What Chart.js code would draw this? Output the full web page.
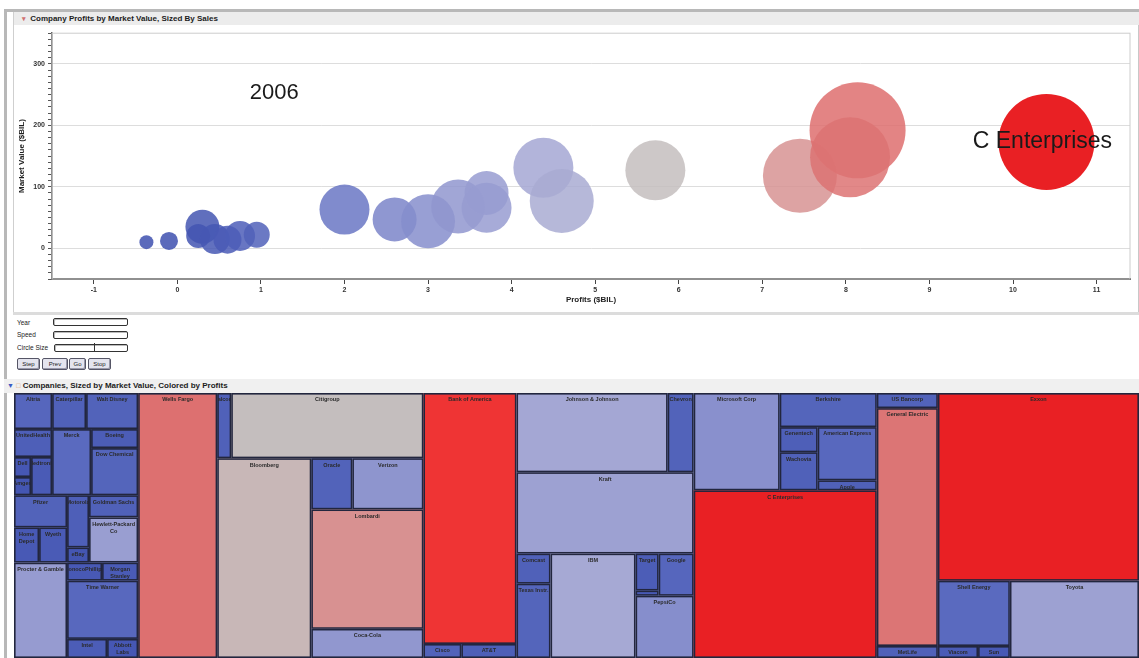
<!DOCTYPE html>
<html>
<head>
<meta charset="utf-8">
<script src="https://cdn.jsdelivr.net/npm/chart.js@4.4.1/dist/chart.umd.min.js"></script>
<style>
  body { margin:0; width:1139px; height:658px; overflow:hidden; background:#fff; position:relative;
         font-family:"Liberation Sans", Arial, sans-serif; color:#222; }
  .abs { position:absolute; }
  .bar { background:#ececec; font-weight:bold; font-size:8px; line-height:13px; height:13px; color:#1c1c1c; white-space:nowrap; }
  .lbl { font-size:6.5px; color:#222; }
  .box { border:1px solid #333; background:#fff; border-radius:2px; box-shadow:inset 1px 1px 0 #bbb; }
  .btn { border:1px solid #556; background:#e4e4ee; border-radius:2px; font-size:6px; text-align:center;
         line-height:10px; height:10px; color:#222; box-shadow:inset -1px -1px 0 #99a; }
</style>
</head>
<body>
<!-- window frame -->
<div class="abs" style="left:4px;top:9px;width:1135px;height:649px;border-left:3px solid #b8b8b8;border-top:3px solid #b8b8b8;"></div>
<div class="abs" style="left:13px;top:12px;width:1124px;height:300px;border-left:1px solid #cfcfcf;border-right:2px solid #c8c8c8;"></div>

<!-- top panel -->
<div class="abs bar" style="left:14px;top:12px;width:1125px;">
  <span style="color:#d07070;font-size:7px;margin-left:8px;">&#9662;</span>
  <span style="margin-left:2px;">Company Profits by Market Value, Sized By Sales</span>
</div>
<div class="abs" style="left:14px;top:26px;width:1122px;height:286px;">
  <canvas id="bubbles"></canvas>
</div>
<div class="abs" style="left:13px;top:312px;width:1126px;height:3px;background:#dcdcdc;"></div>

<!-- controls -->
<div class="abs lbl" style="left:17px;top:319px;">Year</div>
<div class="abs box" style="left:53px;top:318px;width:73px;height:6px;"></div>
<div class="abs lbl" style="left:17px;top:331px;">Speed</div>
<div class="abs box" style="left:53px;top:331px;width:73px;height:6px;"></div>
<div class="abs lbl" style="left:17px;top:344px;">Circle Size</div>
<div class="abs box" style="left:54px;top:344px;width:72px;height:6px;"></div>
<div class="abs" style="left:94px;top:343px;width:1px;height:9px;background:#333;"></div>
<div class="abs btn" style="left:17px;top:358px;width:21px;">Step</div>
<div class="abs btn" style="left:42px;top:358px;width:24px;">Prev</div>
<div class="abs btn" style="left:69px;top:358px;width:15px;">Go</div>
<div class="abs btn" style="left:88px;top:358px;width:21px;">Stop</div>

<!-- treemap panel -->
<div class="abs bar" style="left:4px;top:379px;width:1135px;height:14px;background:#f0f0f0;">
  <span style="color:#3a5bc4;font-size:7px;margin-left:3px;">&#9660;</span>
  <span style="color:#d9a050;font-size:7px;">&#9633;</span>
  <span>Companies, Sized by Market Value, Colored by Profits</span>
</div>
<div class="abs" style="left:14px;top:393px;width:1125px;height:265px;">
  <canvas id="tree"></canvas>
</div>

<script>
// ---- bubble chart data ----
const profits      = [-0.37, -0.10, 0.25, 0.30, 0.45, 0.60, 0.75, 0.95, 2.00, 2.60, 3.00, 3.36, 3.70, 3.70, 4.38, 4.60, 5.72, 7.45, 8.14, 8.05, 10.40];
const marketValues = [10, 12, 20, 35, 15, 14, 20, 22, 63, 47, 44, 68, 90, 66, 131, 77, 127, 118, 192, 148, 173];
const sales        = [4.0, 6.6, 11.8, 23.6, 18.4, 16.0, 18.4, 13.8, 51.0, 39.5, 59.5, 59.5, 39.5, 51.0, 73.5, 83.6, 73.5, 111.8, 188.1, 130.6, 188.1];
const bubbleLabels = ['', '', '', '', '', '', '', '', '', '', '', '', '', '', '', '', '', '', '', '', 'C Enterprises'];
const yearLabel = '2006';
const yearLabelAt = [1.16, 253];   // profits, market value
const yTickLabels = [0, 100, 200, 300];

// ---- treemap data (market value = size, profit = colour) ----
const tmNames = ['Altria', 'Caterpillar', 'Walt Disney', 'UnitedHealth', 'Dell', 'Amgen', 'Medtronic', 'Merck', 'Boeing',
  'Dow Chemical', 'Pfizer', 'Home Depot', 'Wyeth', 'Procter & Gamble', 'Motorola', 'eBay', 'Goldman Sachs',
  'Hewlett-Packard Co', 'ConocoPhillips', 'Morgan Stanley', 'Time Warner', 'Intel', 'Abbott Labs', 'Wells Fargo',
  'Qualcomm', 'Citigroup', 'Bloomberg', 'Oracle', 'Verizon', 'Lombardi', 'Coca-Cola', 'Bank of America', 'Cisco',
  'AT&T', 'Johnson & Johnson', 'Chevron', 'Kraft', 'Comcast', 'Texas Instr.', 'IBM', 'Target', 'Sprint', 'Google',
  'PepsiCo', 'Microsoft Corp', 'Berkshire', 'Genentech', 'Wachovia', 'American Express', 'Apple', 'C Enterprises',
  'US Bancorp', 'General Electric', 'MetLife', 'Exxon', 'Shell Energy', 'Viacom', 'Sun', 'Toyota'];
const tmValues = [13.7, 12.2, 18.7, 10.6, 3.4, 3.1, 8.0, 25.7, 8.9, 22.1, 17.0, 8.8, 9.8, 50.4, 11.4, 3.3, 10.8, 22.1,
  6.3, 6.5, 41.2, 7.6, 5.9, 208.6, 9.1, 124.8, 187.1, 20.9, 36.2, 133.3, 32.5, 232.5, 5.3, 7.7, 119.3, 20.5, 143.4,
  10.2, 25.2, 88.4, 8.5, 1.2, 14.7, 36.0, 83.4, 33.0, 9.5, 14.4, 31.3, 5.9, 305.6, 9.2, 144.6, 7.3, 375.9, 46.8,
  4.8, 3.8, 99.3];
const tmProfits = [1.2, 0.9, 1.0, 0.8, 0.4, 0.3, 0.6, 1.4, 0.7, 1.1, 1.0, 0.5, 0.6, 3.6, 0.8, 0.3, 0.9, 3.8, 0.5, 0.6,
  1.3, 0.7, 0.4, 8.1, 0.9, 5.7, 6.2, 1.0, 3.3, 7.5, 3.4, 9.5, 1.0, 0.8, 4.4, 1.0, 4.0, 0.9, 1.1, 4.5, 0.7, 0.5, 1.2,
  3.0, 3.1, 1.1, 0.8, 0.9, 1.3, 0.9, 10.4, 1.0, 8.0, 0.9, 11.0, 1.4, 0.6, 0.5, 4.0];
// grouping: 'h' = side by side, 'v' = stacked; numbers are indexes into the arrays above
const tmTree = ['h',
  ['v',
    ['v', ['h', 0, 1, 2], ['h', ['v', 3, ['h', ['v', 4, 5], 6]], 7, ['v', 8, 9]]],
    ['h', ['v', 10, ['h', 11, 12], 13], ['v', ['h', ['v', 14, 15], ['v', 16, 17]], ['h', 18, 19], 20, ['h', 21, 22]]]],
  23,
  ['v', ['h', 24, 25], ['h', 26, ['v', ['h', 27, 28], 29, 30]]],
  ['v', 31, ['h', 32, 33]],
  ['v', ['h', 34, 35], 36, ['h', ['v', 37, 38], 39, ['v', ['h', ['v', 40, 41], 42], 43]]],
  ['v', ['h', 44, ['v', 45, ['h', ['v', 46, 47], ['v', 48, 49]]]], 50],
  ['v', 51, 52, 53],
  ['v', 54, ['h', ['v', 55, ['h', 56, 57]], 58]]
];

// colour ramp: low profit blue -> grey -> high profit red
const rampStops = [[0, [62, 80, 175]], [1.5, [92, 108, 192]], [3.5, [148, 153, 208]], [4.5, [166, 169, 212]],
  [5.7, [196, 190, 190]], [6.5, [203, 178, 178]], [7.5, [216, 145, 145]], [8.1, [221, 112, 112]],
  [9.5, [239, 52, 52]], [10.4, [233, 32, 36]]];
function profitColor(p, a) {
  let c = rampStops[rampStops.length - 1][1];
  if (p <= rampStops[0][0]) c = rampStops[0][1];
  for (let i = 0; i < rampStops.length - 1; i++) {
    const [p0, c0] = rampStops[i], [p1, c1] = rampStops[i + 1];
    if (p >= p0 && p <= p1) {
      const t = (p - p0) / (p1 - p0);
      c = c0.map((v, k) => Math.round(v + (c1[k] - v) * t));
      break;
    }
  }
  return 'rgba(' + c[0] + ',' + c[1] + ',' + c[2] + ',' + a + ')';
}

// ---- bubble chart ----
const bubbleText = {
  id: 'bubbleText',
  beforeDatasetsDraw(chart) {
    const { ctx, chartArea: a } = chart;
    ctx.save();
    ctx.strokeStyle = '#cccccc';
    ctx.lineWidth = 1;
    ctx.strokeRect(a.left, a.top, a.right - a.left, a.bottom - a.top);
    ctx.restore();
  },
  afterDatasetsDraw(chart) {
    const { ctx, scales: { x, y } } = chart;
    ctx.save();
    ctx.fillStyle = '#1a1a1a';
    ctx.textAlign = 'center';
    ctx.textBaseline = 'middle';
    ctx.font = '22px "Liberation Sans", Arial, sans-serif';
    ctx.fillText(yearLabel, x.getPixelForValue(yearLabelAt[0]), y.getPixelForValue(yearLabelAt[1]));
    ctx.font = '23px "Liberation Sans", Arial, sans-serif';
    const meta = chart.getDatasetMeta(0);
    bubbleLabels.forEach((t, i) => {
      if (!t) return;
      const el = meta.data[i];
      ctx.fillText(t, el.x - 4, el.y);
    });
    ctx.restore();
  }
};

new Chart(document.getElementById('bubbles'), {
  type: 'bubble',
  data: {
    datasets: [{
      data: profits.map((p, i) => ({ x: p, y: marketValues[i], r: Math.sqrt(sales[i]) * 3.5 })),
      backgroundColor: profits.map(p => profitColor(p, p > 10 ? 1 : 0.85)),
      borderWidth: 0
    }]
  },
  options: {
    responsive: true,
    maintainAspectRatio: false,
    animation: false,
    events: [],
    layout: { autoPadding: false, padding: { top: 7, right: 6, left: 0, bottom: 0 } },
    plugins: { legend: { display: false }, tooltip: { enabled: false } },
    scales: {
      x: {
        type: 'linear', min: -1.5, max: 11.4,
        ticks: { stepSize: 1, includeBounds: false, color: '#333', padding: 2,
                 font: { size: 7, weight: 'bold', family: '"Liberation Sans", Arial' } },
        grid: { drawOnChartArea: false, tickColor: '#444', tickLength: 5 },
        border: { color: '#555', width: 2 },
        title: { display: true, text: 'Profits ($BIL)', color: '#222',
                 font: { size: 8, weight: 'bold', family: '"Liberation Sans", Arial' }, padding: { top: 0, bottom: 7 } },
        afterFit: s => { s.height = 33; }
      },
      y: {
        min: -50, max: 350,
        ticks: { stepSize: 10, autoSkip: false, color: '#333', padding: 3,
                 font: { size: 7, weight: 'bold', family: '"Liberation Sans", Arial' },
                 callback: v => yTickLabels.includes(v) ? v : '' },
        grid: { color: c => (c.tick && yTickLabels.includes(c.tick.value)) ? '#dddddd' : 'rgba(0,0,0,0)',
                tickColor: '#555', tickLength: 4 },
        border: { color: '#555', width: 1.5 },
        title: { display: true, text: 'Market Value ($BIL)', color: '#222',
                 font: { size: 8, weight: 'bold', family: '"Liberation Sans", Arial' }, padding: { top: 3, bottom: 0 } },
        afterFit: s => { s.width = 38; }
      }
    }
  },
  plugins: [bubbleText]
});

// ---- treemap (slice and dice over the tree, drawn through the chart's scales) ----
function nodeSum(n) {
  return typeof n === 'number' ? tmValues[n] : n.slice(1).reduce((s, c) => s + nodeSum(c), 0);
}
function layoutNode(n, x0, y0, x1, y1, out) {
  if (typeof n === 'number') { out.push({ i: n, x0, y0, x1, y1 }); return; }
  const total = nodeSum(n);
  let pos = n[0] === 'h' ? x0 : y0;
  n.slice(1).forEach(c => {
    const f = nodeSum(c) / total;
    if (n[0] === 'h') { const w = (x1 - x0) * f; layoutNode(c, pos, y0, pos + w, y1, out); pos += w; }
    else { const h = (y1 - y0) * f; layoutNode(c, x0, pos, x1, pos + h, out); pos += h; }
  });
}

const treemapPlugin = {
  id: 'treemap',
  afterDatasetsDraw(chart) {
    const { ctx, scales: { x, y } } = chart;
    const cells = [];
    layoutNode(tmTree, 0, 0, 1, 1, cells);
    ctx.save();
    cells.forEach(c => {
      const px0 = x.getPixelForValue(c.x0), px1 = x.getPixelForValue(c.x1);
      const py0 = y.getPixelForValue(c.y0), py1 = y.getPixelForValue(c.y1);
      ctx.fillStyle = profitColor(tmProfits[c.i], 1);
      ctx.fillRect(px0, py0, px1 - px0, py1 - py0);
      ctx.strokeStyle = '#22263e';
      ctx.lineWidth = 1.6;
      ctx.strokeRect(px0 + 0.8, py0 + 0.8, px1 - px0 - 1.6, py1 - py0 - 1.6);
      // label, wrapped and clipped to the cell
      ctx.save();
      ctx.beginPath();
      ctx.rect(px0 + 1, py0 + 1, px1 - px0 - 2, py1 - py0 - 2);
      ctx.clip();
      ctx.font = 'bold 5.5px "Liberation Sans", Arial, sans-serif';
      ctx.fillStyle = '#2a2a2a';
      ctx.textAlign = 'center';
      ctx.textBaseline = 'top';
      const words = tmNames[c.i].split(' ');
      const lines = [];
      let line = '';
      words.forEach(w => {
        const t = line ? line + ' ' + w : w;
        if (line && ctx.measureText(t).width > px1 - px0 - 4) { lines.push(line); line = w; } else line = t;
      });
      lines.push(line);
      lines.forEach((l, k) => ctx.fillText(l, (px0 + px1) / 2, py0 + 4 + k * 7));
      ctx.restore();
    });
    ctx.restore();
  }
};

new Chart(document.getElementById('tree'), {
  type: 'scatter',
  data: { datasets: [{ data: [] }] },
  options: {
    responsive: true,
    maintainAspectRatio: false,
    animation: false,
    events: [],
    layout: { padding: 0 },
    plugins: { legend: { display: false }, tooltip: { enabled: false } },
    scales: {
      x: { min: 0, max: 1, display: false },
      y: { min: 0, max: 1, reverse: true, display: false }
    }
  },
  plugins: [treemapPlugin]
});
</script>
</body>
</html>
